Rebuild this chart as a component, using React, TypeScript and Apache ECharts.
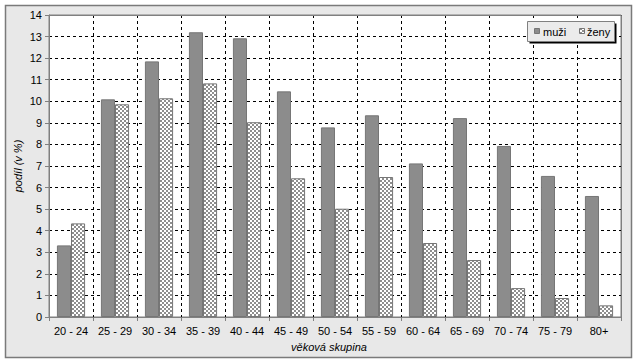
import React, { useEffect, useRef } from "react";
import * as echarts from "echarts";

const categories = ["20 - 24", "25 - 29", "30 - 34", "35 - 39", "40 - 44", "45 - 49", "50 - 54", "55 - 59", "60 - 64", "65 - 69", "70 - 74", "75 - 79", "80+"];
const muzi = [3.32, 10.09, 11.85, 13.2, 12.92, 10.46, 8.79, 9.35, 7.12, 9.22, 7.93, 6.54, 5.61];
const zeny = [4.34, 9.86, 10.14, 10.83, 9.03, 6.43, 5.02, 6.49, 3.43, 2.64, 1.34, 0.88, 0.54];
const seriesNames = ["muži", "ženy"];
const yTicks = [0, 14, 1];

function makePattern(): HTMLCanvasElement {
  const c = document.createElement("canvas");
  c.width = 4;
  c.height = 4;
  const ctx = c.getContext("2d")!;
  ctx.fillStyle = "#ffffff";
  ctx.fillRect(0, 0, 4, 4);
  ctx.fillStyle = "#8e8e8e";
  ctx.fillRect(0, 0, 2, 2);
  ctx.fillRect(2, 2, 2, 2);
  return c;
}

export default function App() {
  const ref = useRef<HTMLDivElement>(null);
  useEffect(() => {
    const chart = echarts.init(ref.current!, null, { renderer: "svg" });
    const pattern = { image: makePattern(), repeat: "repeat" } as any;
    const font = "Arial, 'Liberation Sans', sans-serif";
    const maleColor = "#8c8c8c";
    const edge = "#767676";
    chart.setOption({
      animation: false,
      backgroundColor: "#ffffff",
      textStyle: { fontFamily: font },
      grid: {
        left: 49,
        top: 15,
        right: 19,
        bottom: 47,
        show: true,
        backgroundColor: "#ffffff",
        borderColor: "#808080",
        borderWidth: 1,
      },
      xAxis: {
        type: "category",
        data: categories,
        boundaryGap: true,
        axisLine: { lineStyle: { color: "#808080" } },
        axisTick: { show: true, length: 4, lineStyle: { color: "#808080" } },
        axisLabel: { fontSize: 11, color: "#000", margin: 8, interval: 0 },
        splitLine: { show: true, interval: 0, lineStyle: { color: "#000", type: [3, 3], width: 1 } },
      },
      yAxis: {
        type: "value",
        min: yTicks[0],
        max: yTicks[1],
        interval: yTicks[2],
        axisLine: { show: true, lineStyle: { color: "#808080" } },
        axisTick: { show: true, length: 4, lineStyle: { color: "#808080" } },
        axisLabel: { fontSize: 11, color: "#000", margin: 7 },
        splitLine: { show: true, lineStyle: { color: "#000", type: [3, 3], width: 1 } },
      },
      graphic: [
        { type: "rect", z: -10, shape: { x: 5.5, y: 5.5, width: 626, height: 352 }, style: { fill: "#e8e8e8", stroke: "#7a7a7a", lineWidth: 1.5 } },
        { type: "rect", z: 1, shape: { x: 49.5, y: 15.5, width: 572, height: 302 }, style: { fill: "none", stroke: "#808080", lineWidth: 1 } },
        { type: "rect", z: 5, shape: { x: 529.5, y: 23.5, width: 87, height: 20 }, style: { fill: "#000000" } },
        { type: "rect", z: 5, shape: { x: 527.5, y: 21.5, width: 87, height: 20 }, style: { fill: "#ebebeb", stroke: "#808080", lineWidth: 1 } },
        { type: "rect", z: 6, shape: { x: 534.5, y: 28.5, width: 5, height: 5 }, style: { fill: maleColor, stroke: edge, lineWidth: 1 } },
        { type: "text", z: 6, x: 543, y: 31.5, style: { text: seriesNames[0], fontSize: 11, fontFamily: font, fill: "#000", verticalAlign: "middle" } },
        { type: "rect", z: 6, shape: { x: 579.5, y: 28.5, width: 5, height: 5 }, style: { fill: pattern, stroke: edge, lineWidth: 1 } },
        { type: "text", z: 6, x: 587, y: 31.5, style: { text: seriesNames[1], fontSize: 11, fontFamily: font, fill: "#000", verticalAlign: "middle" } },
        {
          type: "text",
          z: 3,
          x: 18,
          y: 166,
          rotation: Math.PI / 2,
          style: { text: "podíl (v %)", fontSize: 11, fontStyle: "italic", fontFamily: font, fill: "#000", align: "center", verticalAlign: "middle" },
        },
        {
          type: "text",
          z: 3,
          x: 329,
          y: 347,
          style: { text: "věková skupina", fontSize: 11, fontStyle: "italic", fontFamily: font, fill: "#000", align: "center", verticalAlign: "middle" },
        },
      ],
      series: [
        {
          name: seriesNames[0],
          type: "bar",
          data: muzi,
          barGap: "0%",
          barCategoryGap: "36%",
          itemStyle: { color: maleColor, borderColor: edge, borderWidth: 1 },
        },
        {
          name: seriesNames[1],
          type: "bar",
          data: zeny,
          barGap: "0%",
          barCategoryGap: "36%",
          itemStyle: { color: pattern, borderColor: edge, borderWidth: 1 },
        },
      ],
    });
    return () => chart.dispose();
  }, []);
  return <div ref={ref} style={{ position: "fixed", left: 0, top: 0, width: 640, height: 364 }} />;
}
